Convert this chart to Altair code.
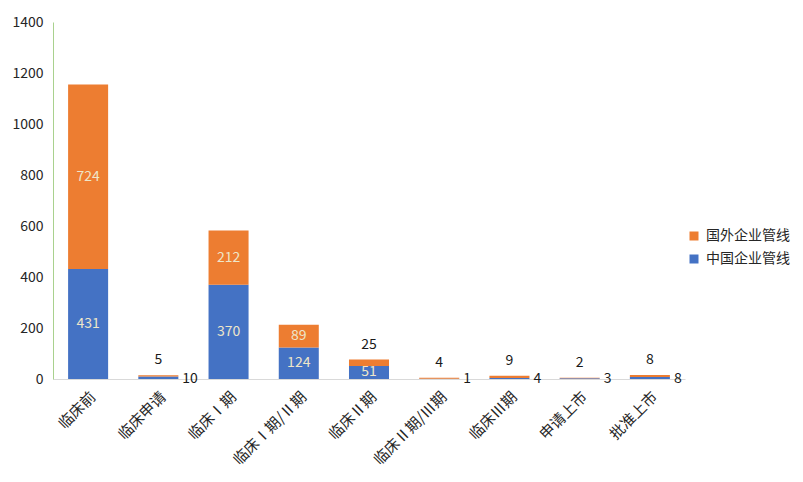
import altair as alt
import pandas as pd

stages = ["临床前", "临床申请", "临床Ⅰ期", "临床Ⅰ期/Ⅱ期", "临床Ⅱ期",
          "临床Ⅱ期/Ⅲ期", "临床Ⅲ期", "申请上市", "批准上市"]
china = [431, 10, 370, 124, 51, 1, 4, 3, 8]
foreign = [724, 5, 212, 89, 25, 4, 9, 2, 8]
series = ["国外企业管线", "中国企业管线"]
colors = ["#ED7D31", "#4472C4"]

rows = []
for s, c, f in zip(stages, china, foreign):
    rows.append({"stage": s, "series": series[1], "value": c, "order": 0})
    rows.append({"stage": s, "series": series[0], "value": f, "order": 1})
df = pd.DataFrame(rows)

FONT = "Noto Sans CJK SC"

base = alt.Chart(df).transform_stack(
    stack="value", groupby=["stage"], as_=["y0", "y1"], sort=[alt.SortField("order")]
).transform_calculate(mid="(datum.y0 + datum.y1) / 2")

x = alt.X("stage:N", sort=stages, title=None,
          scale=alt.Scale(paddingInner=0.43, paddingOuter=0.215),
          axis=alt.Axis(labelAngle=-45, labelFontSize=15, ticks=False,
                        domainColor="#D9D9D9", labelPadding=10,
                        labelColor="#262626", labelFont=FONT))

yscale = alt.Scale(domain=[0, 1400])

bars = base.mark_bar().encode(
    x=x,
    y=alt.Y("y0:Q", scale=yscale, title=None,
            axis=alt.Axis(values=[0, 200, 400, 600, 800, 1000, 1200, 1400], grid=False,
                          format="d", ticks=False, domainColor="#A9D18E", labelFontSize=14,
                          labelPadding=10, labelColor="#262626", labelFont=FONT)),
    y2="y1:Q",
    color=alt.Color("series:N", scale=alt.Scale(domain=series, range=colors),
                    legend=alt.Legend(title=None, orient="none", legendX=634, legendY=207,
                                      symbolType="square", symbolSize=81, labelFontSize=14,
                                      labelFont=FONT, labelColor="#262626", rowPadding=9,
                                      labelOffset=5, padding=0, symbolStrokeWidth=0)),
)

inside = base.transform_filter("datum.value >= 30").mark_text(
    fontSize=14, color="#EEE6C9", font=FONT, baseline="middle"
).encode(x=x, y=alt.Y("mid:Q", scale=yscale), text="value:Q")

out_top = base.transform_filter("datum.value < 30 && datum.order == 1").mark_text(
    fontSize=14, color="#1a1a1a", font=FONT, baseline="middle", dy=-15
).encode(x=x, y=alt.Y("y1:Q", scale=yscale), text="value:Q")

out_right = base.transform_filter("datum.value < 30 && datum.order == 0").mark_text(
    fontSize=14, color="#1a1a1a", font=FONT, baseline="middle", align="left", dx=24
).encode(x=x, y=alt.Y("y0:Q", scale=yscale), text="value:Q")

chart = alt.layer(bars, inside, out_top, out_right).properties(
    width=632, height=357,
    autosize=alt.AutoSizeParams(type="none"),
    padding={"left": 45, "top": 14, "right": 110, "bottom": 95},
).configure(font=FONT, view=alt.ViewConfig(stroke=None))

chart.save("out.html", embed_options={"renderer": "svg", "actions": False})
